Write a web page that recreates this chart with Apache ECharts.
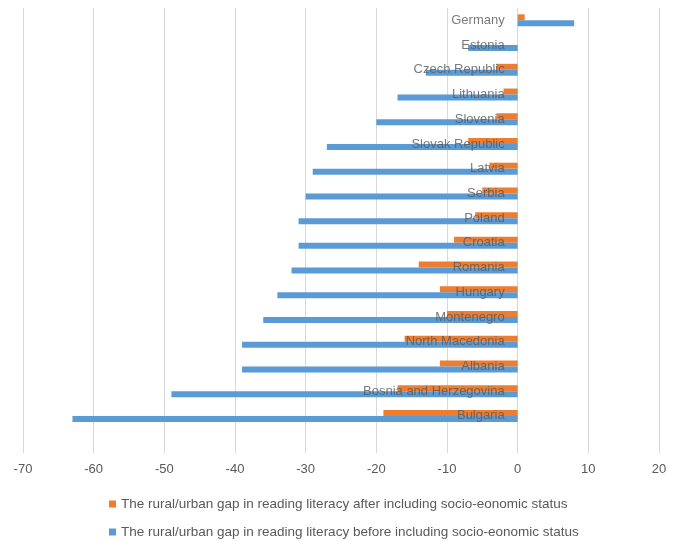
<!DOCTYPE html>
<html>
<head>
<meta charset="utf-8">
<script src="https://cdn.jsdelivr.net/npm/echarts@6/dist/echarts.min.js"></script>
<style>
  html, body { margin: 0; padding: 0; background: #fff; }
  #chart { width: 679px; height: 541px; }
</style>
</head>
<body>
<div id="chart"></div>
<script>
// Countries, top to bottom; the trailing blank keeps an empty row under Bulgaria
const countries = [
  'Germany', 'Estonia', 'Czech Republic', 'Lithuania', 'Slovenia', 'Slovak Republic',
  'Latvia', 'Serbia', 'Poland', 'Croatia', 'Romania', 'Hungary', 'Montenegro',
  'North Macedonia', 'Albania', 'Bosnia and Herzegovina', 'Bulgaria', ''
];

// Rural/urban gap after controlling for socio-economic status
const gapAfter = [1, 0, -3, -2, -3, -7, -4, -5, -6, -9, -14, -11, -10, -16, -11, -17, -19, null];

// Rural/urban gap before controlling for socio-economic status
const gapBefore = [8, -7, -13, -17, -20, -27, -29, -30, -31, -31, -32, -34, -36, -39, -39, -49, -63, null];

const xTicks = { min: -70, max: 20, step: 10 };

const seriesNames = [
  'The rural/urban gap in reading literacy after including socio-eonomic status',
  'The rural/urban gap in reading literacy before including socio-eonomic status'
];

const textColor = '#595959';
const fontFamily = '"Liberation Sans", Arial, sans-serif';

// Country names sit on the zero line, right-aligned to its left
const nameAnchors = countries.filter(c => c !== '').map(c => [0, c]);

const chart = echarts.init(document.getElementById('chart'), null, { renderer: 'canvas' });

chart.setOption({
  animation: false,
  textStyle: { fontFamily: fontFamily },
  grid: { left: 23, right: 20, top: 8, bottom: 88, containLabel: false, outerBoundsMode: 'none' },
  xAxis: {
    type: 'value',
    min: xTicks.min,
    max: xTicks.max,
    interval: xTicks.step,
    axisLine: { show: false },
    axisTick: { show: false },
    splitLine: { show: true, lineStyle: { color: '#d9d9d9', width: 1 } },
    axisLabel: { color: textColor, fontSize: 13, margin: 10, fontFamily: fontFamily }
  },
  yAxis: {
    type: 'category',
    inverse: true,
    data: countries,
    axisLine: { show: false },
    axisTick: { show: false },
    axisLabel: { show: false },
    splitLine: { show: false }
  },
  legend: {
    orient: 'vertical',
    left: 109,
    top: 497,
    padding: 0,
    itemWidth: 7,
    itemHeight: 7,
    itemGap: 14,
    icon: 'rect',
    textStyle: { color: textColor, fontSize: 13.5, fontFamily: fontFamily },
    data: seriesNames
  },
  series: [
    {
      name: seriesNames[0],
      type: 'bar',
      data: gapAfter,
      barWidth: 6,
      barGap: '0%',
      itemStyle: { color: '#ED7D31' }
    },
    {
      name: seriesNames[1],
      type: 'bar',
      data: gapBefore,
      barWidth: 6,
      barGap: '0%',
      itemStyle: { color: '#5B9BD5' }
    },
    {
      name: 'country names',
      type: 'scatter',
      data: nameAnchors,
      symbolSize: 0,
      silent: true,
      z: 10,
      label: {
        show: true,
        position: 'left',
        distance: 13,
        formatter: p => p.value[1],
        color: textColor,
        fontSize: 13,
        fontFamily: fontFamily
      }
    }
  ]
});
</script>
</body>
</html>
